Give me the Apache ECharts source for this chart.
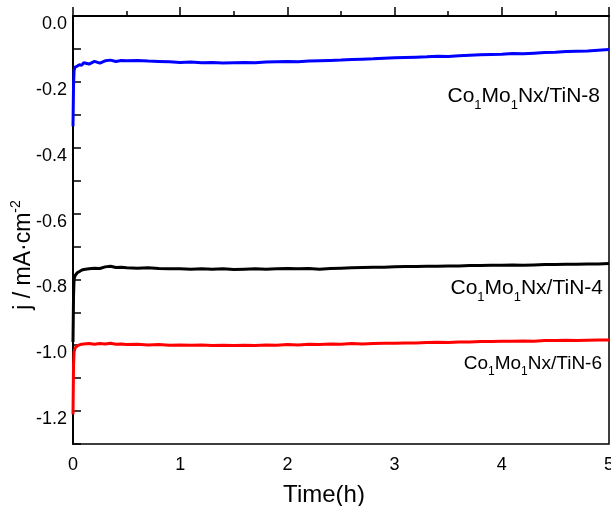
<!DOCTYPE html>
<html>
<head>
<meta charset="utf-8">
<script src="https://cdn.jsdelivr.net/npm/echarts@6/dist/echarts.min.js"></script>
<style>
  html, body { margin: 0; padding: 0; background: #fff; }
  #chart { width: 611px; height: 506px; }
</style>
</head>
<body>
<div id="chart"></div>
<script>
// time axis (h)
const hours = [0, 0.005, 0.01, 0.02, 0.04, 0.06, 0.08, 0.1, 0.15, 0.2, 0.25, 0.3, 0.35, 0.4, 0.45,
  0.5, 0.6, 0.7, 0.8, 0.9, 1.0, 1.1, 1.2, 1.3, 1.4, 1.5, 1.6, 1.7, 1.8, 1.9,
  2.0, 2.1, 2.2, 2.3, 2.4, 2.5, 2.6, 2.7, 2.8, 2.9, 3.0, 3.1, 3.2, 3.3, 3.4,
  3.5, 3.6, 3.7, 3.8, 3.9, 4.0, 4.1, 4.2, 4.3, 4.4, 4.5, 4.6, 4.7, 4.8, 4.9, 5.0];

// current density, mA cm-2
const tin8 = [-0.335, -0.21, -0.165, -0.155, -0.152, -0.148, -0.150, -0.142, -0.146, -0.138, -0.143, -0.136, -0.134, -0.138, -0.135,
  -0.136, -0.135, -0.137, -0.138, -0.139, -0.141, -0.140, -0.142, -0.141, -0.143, -0.142, -0.141, -0.142, -0.140, -0.139,
  -0.138, -0.139, -0.137, -0.136, -0.135, -0.134, -0.132, -0.131, -0.130, -0.128, -0.127, -0.126, -0.125, -0.124, -0.122,
  -0.123, -0.121, -0.119, -0.118, -0.117, -0.116, -0.114, -0.115, -0.113, -0.111, -0.110, -0.108, -0.107, -0.106, -0.104, -0.102];

const tin4 = [-0.99, -0.85, -0.80, -0.788, -0.780, -0.776, -0.772, -0.770, -0.768, -0.766, -0.767, -0.762, -0.760, -0.764, -0.763,
  -0.765, -0.766, -0.765, -0.767, -0.768, -0.768, -0.769, -0.768, -0.769, -0.768, -0.770, -0.769, -0.768, -0.769, -0.768,
  -0.767, -0.768, -0.767, -0.769, -0.767, -0.766, -0.765, -0.764, -0.763, -0.763, -0.762, -0.761, -0.761, -0.760, -0.760,
  -0.759, -0.759, -0.758, -0.758, -0.757, -0.757, -0.756, -0.757, -0.756, -0.755, -0.755, -0.754, -0.754, -0.753, -0.753, -0.752];

const tin6 = [-1.21, -1.06, -1.02, -1.008, -1.002, -0.999, -0.997, -0.996, -0.995, -0.997, -0.995, -0.996, -0.994, -0.997, -0.996,
  -0.998, -0.997, -0.999, -0.998, -1.000, -0.999, -1.000, -0.999, -1.001, -1.000, -1.001, -1.000, -1.001, -0.999, -1.000,
  -0.998, -0.999, -0.997, -0.998, -0.996, -0.997, -0.995, -0.996, -0.995, -0.994, -0.994, -0.993, -0.993, -0.992, -0.991,
  -0.992, -0.990, -0.990, -0.989, -0.989, -0.988, -0.988, -0.987, -0.988, -0.986, -0.986, -0.985, -0.986, -0.985, -0.984, -0.984];

const seriesNames = ['TiN-8', 'TiN-4', 'TiN-6'];
const seriesColors = ['#0000ff', '#000000', '#ff0000'];

const FONT = '"Liberation Sans", Arial, sans-serif';

const pairs = (ys) => hours.map((h, i) => [h, ys[i]]);

const sampleLabel = (name, x, y, size) => ({
  type: 'text',
  right: 611 - x,
  top: y,
  style: {
    text: `{n|Co}{s|1}{n|Mo}{s|1}{n|Nx/${name}}`,
    font: `${size}px ${FONT}`,
    fill: '#000',
    rich: {
      n: { fontSize: size, fontFamily: FONT, fill: '#000' },
      s: { fontSize: Math.round(size * 0.62), fontFamily: FONT, fill: '#000', padding: [size * 0.85, 0, 0, 0] }
    }
  }
});

const chart = echarts.init(document.getElementById('chart'));

chart.setOption({
  animation: false,
  backgroundColor: '#fff',
  grid: {
    left: 73, right: 2, top: 16, bottom: 62,
    outerBoundsMode: 'none',
    containLabel: false,
    show: true,
    borderColor: '#000',
    borderWidth: 1.5
  },
  xAxis: {
    type: 'value',
    min: 0, max: 5, interval: 1,
    name: 'Time(h)',
    nameLocation: 'middle',
    nameGap: 39,
    nameMoveOverlap: false,
    nameTextStyle: { fontFamily: FONT, fontSize: 24, color: '#000', padding: [0, 34, 0, 0] },
    axisLine: { lineStyle: { color: '#000', width: 2 } },
    axisTick: { inside: true, length: 9, lineStyle: { color: '#000', width: 1.5 } },
    minorTick: { show: true, splitNumber: 2, length: 5, lineStyle: { color: '#000', width: 1.5 } },
    axisLabel: { fontFamily: FONT, fontSize: 18, color: '#000', margin: 12 },
    splitLine: { show: false }
  },
  yAxis: {
    type: 'value',
    min: -1.3, max: 0, interval: 0.1,
    name: '{a|j / mA·cm}{b|-2}',
    nameLocation: 'middle',
    nameGap: 35,
    nameMoveOverlap: false,
    nameRotate: 90,
    nameTextStyle: {
      padding: [0, 50, 0, 0],
      rich: {
        a: { fontFamily: FONT, fontSize: 23, color: '#000' },
        b: { fontFamily: FONT, fontSize: 14, color: '#000', padding: [0, 0, 15, 0] }
      }
    },
    axisLine: { lineStyle: { color: '#000', width: 2 } },
    axisTick: { inside: true, length: 8, lineStyle: { color: '#000', width: 1.5 } },
    axisLabel: {
      fontFamily: FONT, fontSize: 18, color: '#000', margin: 6,
      verticalAlign: 'top', lineHeight: 16,
      formatter: (v) => (Math.round(v * 10) % 2 === 0 ? v.toFixed(1) : '')
    },
    splitLine: { show: false }
  },
  series: [tin8, tin4, tin6].map((ys, i) => ({
    name: seriesNames[i],
    type: 'line',
    data: pairs(ys),
    showSymbol: false,
    lineStyle: { color: seriesColors[i], width: 3 },
    z: 3 - i
  })),
  graphic: [
    sampleLabel('TiN-8', 600, 86, 21),
    sampleLabel('TiN-4', 603, 278, 21),
    sampleLabel('TiN-6', 602, 354, 19)
  ]
});
</script>
</body>
</html>
